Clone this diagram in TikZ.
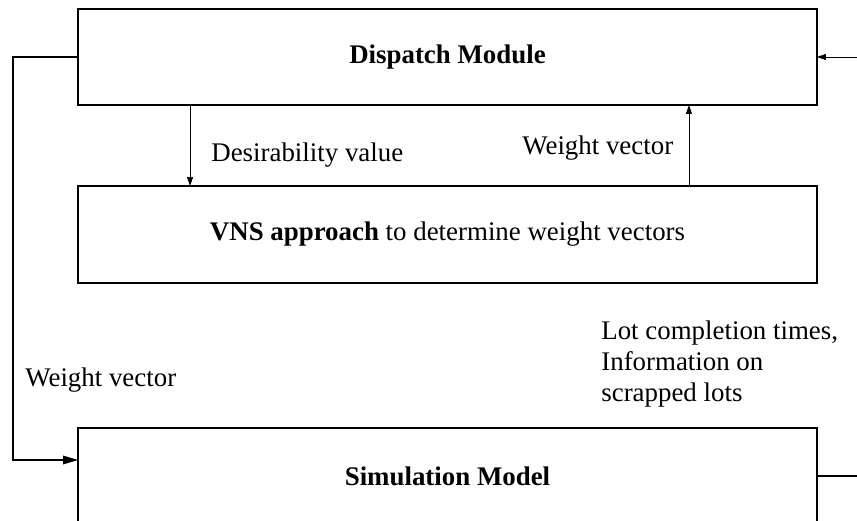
\documentclass[tikz,border=0pt]{standalone}
\usepackage{fontspec}
\setmainfont{Liberation Serif}
\usetikzlibrary{arrows.meta, positioning, calc}

\begin{document}
\begin{tikzpicture}[
            x=0.02cm, y=0.02cm,
            font=\fontsize{15.3}{17.7}\selectfont,
            module/.style={rectangle, draw, line width=0.75pt, minimum width=14.78cm, minimum height=1.92cm, inner sep=0pt, outer sep=0pt, align=center},
            lbl/.style={inner sep=0pt, align=left},
            flow/.style={-{Triangle[length=5.1pt, width=3.4pt]}, line width=0.4pt},
            loop/.style={line width=0.6pt}
        ]
\useasboundingbox (0,0) rectangle (857,520);

% Nodes
            \node[module] (dispatch) at (447.5,463) {\textbf{Dispatch Module}};
            \node[module, minimum height=1.94cm] (vns) at (447.5,285.5) {\textbf{VNS approach} to determine weight vectors};
            \node[module] (sim) at (447.5,44) {\textbf{Simulation Model}};

% Labels
            \node[lbl, anchor=base west] (desval) at (211,358.3) {Desirability value};
            \node[lbl, anchor=base west] (wvup) at (522,365) {Weight vector};
            \node[lbl, anchor=base west] (wvleft) at (25,133) {Weight vector};
            \node[lbl, anchor=base west] (lotinfo) at (601,118.3) {Lot completion times,\\Information on\\scrapped lots};

% Edges
            \coordinate (wvcorner) at (13,60);
            \coordinate (feedin) at (860,463);
            \coordinate (feedout) at (860,44);
            \draw[loop, -{Triangle[length=8.5pt, width=4.9pt]}] (dispatch.west) -| (wvcorner) -- (wvcorner -| sim.west);
            \draw[flow] (feedin) -- (dispatch.east);
            \draw[loop] (sim.east) -- (feedout);
            \draw[flow] ([xshift=2.24cm]dispatch.south west) -- ([xshift=2.24cm]vns.north west);
            \draw[flow] ([xshift=-2.56cm]vns.north east) -- ([xshift=-2.56cm]dispatch.south east);

        \end{tikzpicture}
\end{document}
